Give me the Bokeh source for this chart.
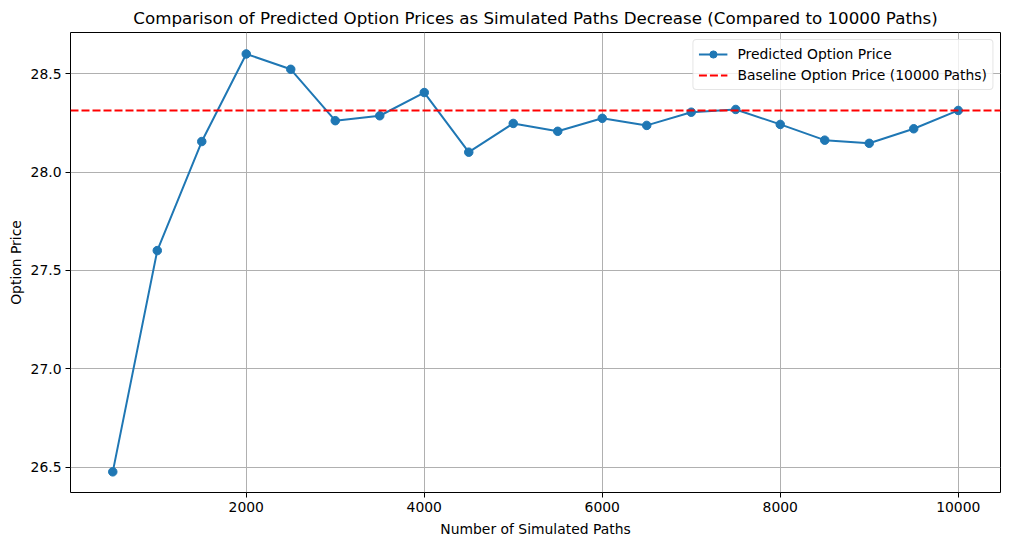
from bokeh.plotting import figure
from bokeh.models import FixedTicker, Range1d, Legend, LegendItem, CustomJSTickFormatter
from bokeh.embed import file_html
from bokeh.resources import INLINE

paths = [500, 1000, 1500, 2000, 2500, 3000, 3500, 4000, 4500, 5000,
         5500, 6000, 6500, 7000, 7500, 8000, 8500, 9000, 9500, 10000]
prices = [26.477, 27.601, 28.155, 28.600, 28.522, 28.261, 28.286, 28.404, 28.101, 28.247,
          28.207, 28.273, 28.237, 28.304, 28.318, 28.242, 28.162, 28.146, 28.220, 28.313]
baseline = 28.313
x_ticks = [2000, 4000, 6000, 8000, 10000]
y_ticks = [26.5, 27.0, 27.5, 28.0, 28.5]

FONT = "DejaVu Sans"

p = figure(width=1002, height=539, output_backend="svg", toolbar_location=None,
           x_range=Range1d(25, 10475), y_range=Range1d(26.372, 28.709),
           min_border_left=70, min_border_right=2, min_border_bottom=45, min_border_top=32)

p.title.text = "Comparison of Predicted Option Prices as Simulated Paths Decrease (Compared to 10000 Paths)"
p.title.align = "center"
p.title.text_font = FONT
p.title.text_font_size = "16.7px"
p.title.text_font_style = "normal"
p.title.text_color = "black"
p.title.standoff = 9

p.outline_line_color = "black"
p.outline_line_width = 1
p.outline_line_alpha = 1

for ax in (p.xaxis[0], p.yaxis[0]):
    ax.axis_line_color = None
    ax.major_tick_line_color = "black"
    ax.major_tick_out = 5
    ax.major_tick_in = 0
    ax.minor_tick_line_color = None
    ax.major_label_text_font = FONT
    ax.major_label_text_font_size = "13.9px"
    ax.major_label_text_color = "black"
    ax.axis_label_text_font = FONT
    ax.axis_label_text_font_size = "13.9px"
    ax.axis_label_text_font_style = "normal"
    ax.axis_label_text_color = "black"

p.xaxis.ticker = FixedTicker(ticks=x_ticks)
p.yaxis.ticker = FixedTicker(ticks=y_ticks)
p.yaxis.formatter = CustomJSTickFormatter(code="return tick.toFixed(1);")
p.xaxis.formatter = CustomJSTickFormatter(code="return tick.toFixed(0);")
p.xaxis.axis_label = "Number of Simulated Paths"
p.yaxis.axis_label = "Option Price"
p.xaxis.major_label_standoff = 4
p.yaxis.major_label_standoff = 4
p.xaxis.axis_label_standoff = 6
p.yaxis.axis_label_standoff = 4

p.grid.grid_line_color = "#b0b0b0"
p.grid.grid_line_width = 1
p.grid.grid_line_alpha = 1

l1 = p.line(paths, prices, line_color="#1f77b4", line_width=2)
s1 = p.scatter(paths, prices, size=8.5, fill_color="#1f77b4", line_color="#1f77b4", marker="circle")

bl = p.line([25, 10475], [baseline, baseline], line_color="red", line_width=2, line_dash="8 3")

legend = Legend(items=[
    LegendItem(label="Predicted Option Price", renderers=[l1, s1]),
    LegendItem(label="Baseline Option Price (10000 Paths)", renderers=[bl]),
], location="top_right")
legend.label_text_font = FONT
legend.label_text_font_size = "13.9px"
legend.label_text_color = "black"
legend.border_line_color = "#cccccc"
legend.border_line_width = 1
legend.border_radius = 4
legend.background_fill_alpha = 0.8
legend.glyph_width = 29
legend.label_standoff = 10
legend.spacing = 3
legend.padding = 5
legend.margin = 7
legend.label_height = 18
legend.glyph_height = 18
p.add_layout(legend)

open("out.html", "w").write(file_html(p, INLINE))
